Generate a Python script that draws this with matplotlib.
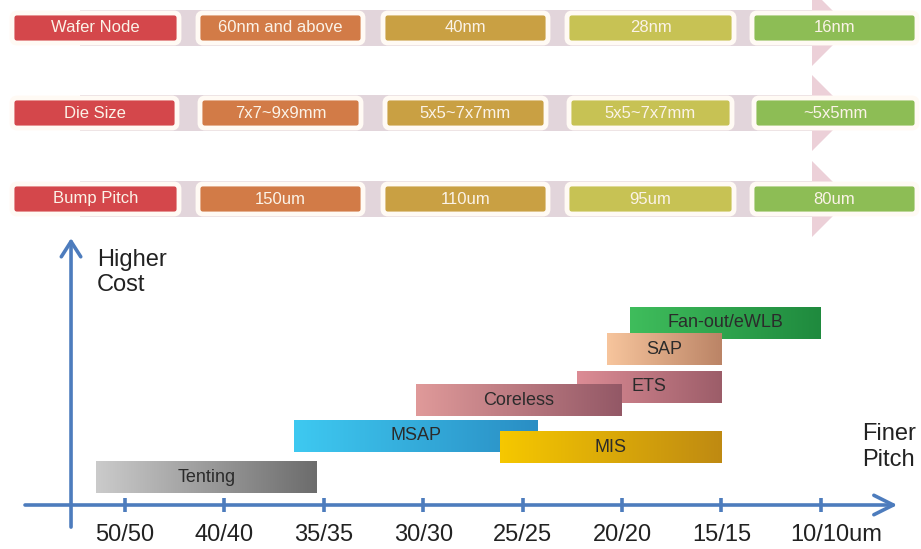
import numpy as np
import matplotlib
matplotlib.use("Agg")
import matplotlib.pyplot as plt
from matplotlib.colors import LinearSegmentedColormap
from matplotlib.patches import FancyBboxPatch, Rectangle, Polygon

plt.rcParams['font.family'] = ['Liberation Sans', 'DejaVu Sans']

# tabela de cima
row_names = ["Wafer Node", "Die Size", "Bump Pitch"]
wafer_node = ["60nm and above", "40nm", "28nm", "16nm"]
die_size = ["7x7~9x9mm", "5x5~7x7mm", "5x5~7x7mm", "~5x5mm"]
bump_pitch = ["150um", "110um", "95um", "80um"]

# grafico de baixo (x em "degraus" de pitch, y em niveis de custo)
pitch_labels = ["50/50", "40/40", "35/35", "30/30", "25/25", "20/20", "15/15", "10/10um"]
techs = ["Tenting", "MSAP", "MIS", "ETS", "Coreless", "Fan-out/eWLB", "SAP"]
tech_from = [-0.29, 1.70, 3.77, 4.55, 2.93, 5.08, 4.85]
tech_to = [1.93, 4.15, 6.0, 6.0, 5.0, 7.0, 6.0]
tech_cost = [0.375, 1.66, 1.31, 3.19, 2.78, 5.19, 4.375]

# estilos
box_colors = ['#d4474b', '#d27b47', '#c9a043', '#c7c254', '#8dbd55']
tech_grad = [('#cbcbcb', '#6c6c6c'), ('#3ec9f1', '#2a8ec4'), ('#f6c800', '#bf8a12'),
             ('#dc8c95', '#9c5d69'), ('#e09a9a', '#935866'), ('#3fbd5c', '#1f8a3e'),
             ('#f7c59d', '#bb8466')]
blue = '#4d7cbd'

fig = plt.figure(figsize=(9.21, 5.49), dpi=100)

# ---- parte de cima, em pixels
top = fig.add_axes([0, 0, 1, 1])
top.set_xlim(0, 921)
top.set_ylim(549, 0)
top.axis('off')

col_x0 = [12, 198, 383, 567, 752]
col_x1 = [179, 363, 548, 734, 917]
row_yc = [28, 113, 199]
row_inset = [0, 2, 0]
box_h = 30

rows = [wafer_node, die_size, bump_pitch]
for r, yc in enumerate(row_yc):
    top.add_patch(Rectangle((80, yc - 18), 812 - 80, 36, color='#e2d5db', lw=0, zorder=1))
    top.add_patch(Polygon([(812, yc - 38), (850, yc), (812, yc + 38)], closed=True,
                          color='#ecd0d8', lw=0, zorder=1))
    texts = [row_names[r]] + rows[r]
    for c in range(5):
        x0 = col_x0[c] + (row_inset[r] if c > 0 else 0)
        x1 = col_x1[c] - (row_inset[r] if c < 4 else 0)
        top.add_patch(FancyBboxPatch((x0, yc - box_h / 2), x1 - x0, box_h,
                                     boxstyle='round,pad=0,rounding_size=5',
                                     facecolor=box_colors[c], edgecolor='#fffaf4',
                                     lw=3.5, zorder=2))
        top.text((x0 + x1) / 2, yc, texts[c], ha='center', va='center',
                 fontsize=12, color='#fbf3e8', zorder=3)

# ---- parte de baixo
ax = fig.add_axes([0, 0, 1, 319 / 549])
ax.patch.set_alpha(0)
ax.axis('off')

grad = np.linspace(0, 1, 256).reshape(1, -1)
for i, name in enumerate(techs):
    cmap = LinearSegmentedColormap.from_list(name, tech_grad[i])
    ax.imshow(grad, extent=[tech_from[i], tech_to[i], tech_cost[i], tech_cost[i] + 1],
              aspect='auto', cmap=cmap, zorder=2 + i, interpolation='bilinear')
    ax.text((tech_from[i] + tech_to[i]) / 2, tech_cost[i] + 0.5, name,
            ha='center', va='center', fontsize=13, color='#2b2b2b', zorder=2.5 + i)

# eixos com setas
ax.annotate('', xy=(7.77, 0), xytext=(-1.006, 0),
            arrowprops=dict(arrowstyle='->,head_length=1.4,head_width=0.7',
                            lw=2.6, color=blue, shrinkA=0, shrinkB=0))
ax.annotate('', xy=(-0.543, 8.34), xytext=(-0.543, -0.69),
            arrowprops=dict(arrowstyle='->,head_length=1.1,head_width=0.7',
                            lw=2.6, color=blue, shrinkA=0, shrinkB=0))
ax.vlines(range(len(pitch_labels)), -0.22, 0.22, lw=2.6, color=blue)

for i, lab in enumerate(pitch_labels):
    if i == len(pitch_labels) - 1:
        ax.text(i - 0.31, -0.94, lab, ha='left', va='center', fontsize=17, color='#222222')
    else:
        ax.text(i, -0.94, lab, ha='center', va='center', fontsize=17, color='#222222')

ax.text(-0.28, 8.0, "Higher\nCost", ha='left', va='top', fontsize=17,
        linespacing=1.2, color='#222222')
ax.text(7.42, 1.81, "Finer\nPitch", ha='left', va='center', fontsize=17,
        linespacing=1.2, color='#222222')

ax.set_xlim(-125 / 99.4, 796 / 99.4)
ax.set_ylim(-44 / 32, 275 / 32)

fig.savefig('out.png', dpi=100)
